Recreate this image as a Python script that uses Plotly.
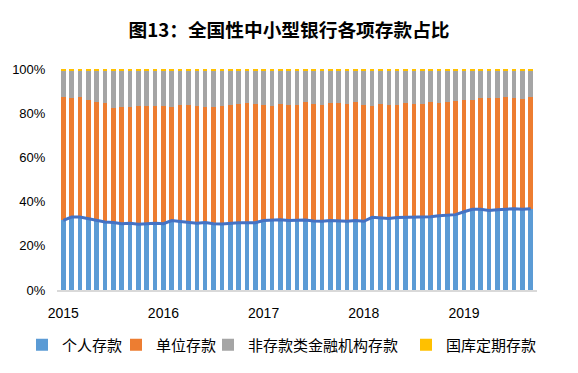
import plotly.graph_objects as go

# Monthly, 2015-01 .. 2019-09 (57 months), shares in %
months = [f"{y}-{m:02d}" for y in range(2015, 2020) for m in range(1, 13)][:57]

personal = [31.5, 33.0, 33.0, 32.3, 31.3, 30.8, 30.5, 30.0, 30.2, 29.8, 30.0, 30.2,
            30.0, 31.4, 31.0, 30.6, 30.2, 30.5, 30.0, 29.9, 30.3, 30.4, 30.4, 30.4,
            31.4, 31.5, 31.8, 31.5, 31.5, 31.7, 31.2, 31.1, 31.4, 31.1, 31.1, 31.4,
            31.1, 32.9, 32.8, 32.4, 32.8, 32.9, 32.9, 32.9, 33.2, 33.6, 33.7, 34.1,
            35.4, 36.5, 36.5, 36.0, 36.3, 36.5, 36.8, 36.5, 36.8]

unit_top = [87.5, 87.0, 87.5, 86.1, 85.1, 84.8, 82.5, 82.7, 83.0, 83.1, 83.3, 83.3,
            83.1, 82.8, 83.7, 83.7, 83.1, 83.0, 83.0, 83.1, 83.7, 84.2, 84.6, 84.2,
            83.9, 83.3, 84.0, 83.6, 83.7, 85.0, 84.2, 83.7, 84.8, 84.8, 84.2, 85.1,
            83.7, 83.3, 84.2, 83.9, 83.9, 84.8, 84.2, 84.2, 85.1, 84.8, 85.1, 85.7,
            86.0, 86.1, 86.9, 86.9, 86.9, 87.5, 86.9, 86.6, 87.5]

treasury = [0.6, 0.6, 0.6, 0.6, 0.6, 0.6, 0.6, 0.6, 0.6, 0.6, 0.6, 0.6,
            0.6, 0.6, 0.6, 0.6, 0.6, 0.6, 0.6, 0.6, 0.6, 0.6, 0.6, 0.6,
            0.6, 0.6, 0.6, 0.6, 0.6, 0.6, 0.6, 0.6, 0.6, 0.6, 0.6, 0.6,
            0.6, 0.6, 0.6, 0.6, 0.6, 0.6, 0.6, 0.6, 0.7, 0.6, 0.6, 0.6,
            0.6, 0.6, 0.6, 0.5, 0.5, 0.5, 0.5, 0.5, 0.5]

unit = [round(t - p, 2) for t, p in zip(unit_top, personal)]
nonbank = [round(100 - t - q, 2) for t, q in zip(unit_top, treasury)]

tick_years = ["2015", "2016", "2017", "2018", "2019"]
y_ticks = [0, 20, 40, 60, 80, 100]

x = list(range(len(months)))
names = ["个人存款", "单位存款", "非存款类金融机构存款", "国库定期存款"]
colors = ["#5B9BD5", "#ED7D31", "#A5A5A5", "#FFC000"]
series = [personal, unit, nonbank, treasury]
legend_ids = ["legend", "legend2", "legend3", "legend4"]

fig = go.Figure()
for n, c, s, lg in zip(names, colors, series, legend_ids):
    fig.add_trace(go.Bar(x=x, y=s, name=n, marker=dict(color=c, line=dict(width=0)),
                         customdata=months, legend=lg))
fig.add_trace(go.Scatter(x=x, y=personal, mode="lines", showlegend=False,
                         line=dict(color="#4472C4", width=3)))

# plot area: x 57..537 px, y 69..290 px
L, R, T, B = 57, 537, 69, 290
def px_x(p):
    return (p - L) / (R - L)
def px_y(p):
    return (B - p) / (B - T)

legend_left_px = [22, 116, 208, 406]
legend_font = dict(family="Noto Sans CJK SC", size=15, color="#000000")
legend_layout = {}
for lg, lx in zip(legend_ids, legend_left_px):
    legend_layout[lg] = dict(orientation="h", x=px_x(lx), xanchor="left",
                             y=px_y(345), yanchor="middle", font=legend_font,
                             bgcolor="rgba(0,0,0,0)")

fig.update_layout(
    barmode="stack",
    bargap=0.45,
    width=578, height=373,
    margin=dict(l=L, r=578 - R, t=T, b=373 - B, autoexpand=False),
    paper_bgcolor="white", plot_bgcolor="white",
    font=dict(family="Liberation Sans, Arial, Noto Sans CJK SC", size=13, color="#000000"),
    title=dict(text="<b>图13：全国性中小型银行各项存款占比</b>",
               x=0.5, xanchor="center", y=1 - 30 / 373, yanchor="middle",
               font=dict(family="Noto Sans CJK SC", size=18.7, color="#000000")),
    xaxis=dict(range=[-0.75, 56.75], tickmode="array",
               tickvals=[0, 12, 24, 36, 48], ticktext=tick_years,
               showline=True, linecolor="#D9D9D9", linewidth=2,
               showgrid=False, zeroline=False, automargin=False,
               ticks="outside", ticklen=9, tickcolor="rgba(0,0,0,0)",
               tickfont=dict(size=14)),
    yaxis=dict(range=[0, 100], tickmode="array", tickvals=y_ticks,
               ticktext=[f"{v}%" for v in y_ticks],
               showgrid=False, zeroline=False, showline=False, automargin=False,
               ticks="outside", ticklen=8, tickcolor="rgba(0,0,0,0)",
               tickfont=dict(size=13)),
    showlegend=True,
    **legend_layout,
)

fig.write_html("out.html", config={"displayModeBar": False},
               post_script="document.body.style.margin='0';document.body.style.overflow='hidden';")
